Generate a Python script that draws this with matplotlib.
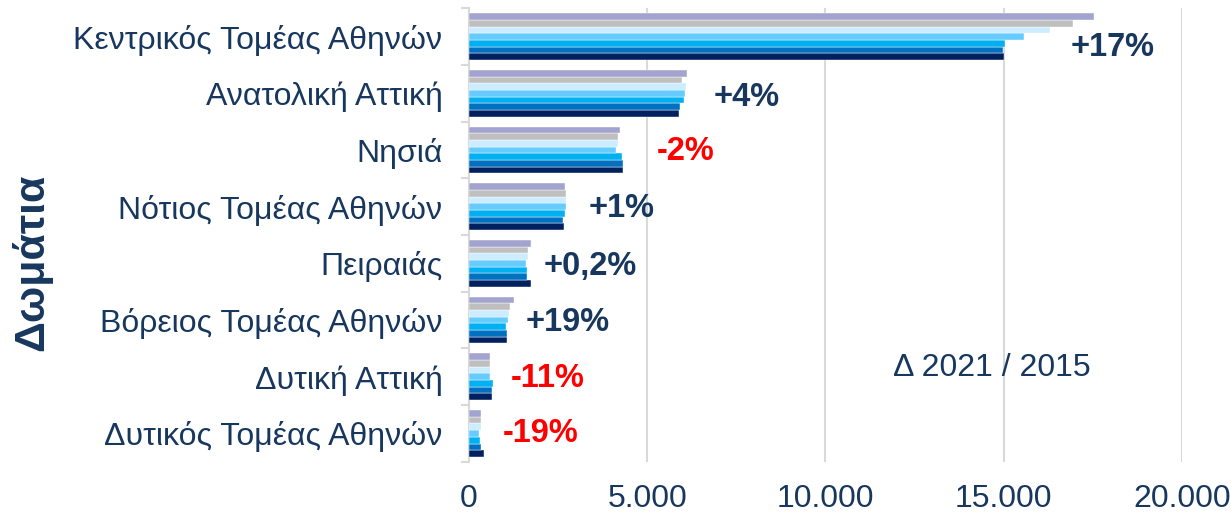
import numpy as np
import matplotlib.pyplot as plt
from matplotlib.ticker import FuncFormatter

plt.rcParams['font.family'] = ['Liberation Sans', 'DejaVu Sans']

# Περιοχές (από πάνω προς τα κάτω)
regions = ["Κεντρικός Τομέας Αθηνών", "Ανατολική Αττική", "Νησιά",
           "Νότιος Τομέας Αθηνών", "Πειραιάς", "Βόρειος Τομέας Αθηνών",
           "Δυτική Αττική", "Δυτικός Τομέας Αθηνών"]
years = [2015, 2016, 2017, 2018, 2019, 2020, 2021]

# Δωμάτια ανά έτος (εκτίμηση από την εικόνα)
rooms_2015 = [15000, 5880, 4330, 2670, 1730, 1055, 650, 413]
rooms_2016 = [14990, 5920, 4310, 2630, 1620, 1070, 650, 330]
rooms_2017 = [15030, 6040, 4300, 2690, 1620, 1050, 665, 300]
rooms_2018 = [15570, 6060, 4130, 2720, 1600, 1096, 600, 280]
rooms_2019 = [16310, 6076, 4190, 2710, 1657, 1115, 580, 330]
rooms_2020 = [16950, 5980, 4190, 2730, 1657, 1152, 580, 337]
rooms_2021 = [17545, 6124, 4240, 2700, 1735, 1255, 580, 337]
change_labels = ["+17%", "+4%", "-2%", "+1%", "+0,2%", "+19%", "-11%", "-19%"]

series = [rooms_2015, rooms_2016, rooms_2017, rooms_2018,
          rooms_2019, rooms_2020, rooms_2021]
colors = ["#002060", "#0070C0", "#00B0F0", "#66CCFF",
          "#CCECFF", "#BFBFBF", "#A3A3CF"]

text_col = "#17375E"

fig = plt.figure(figsize=(12.31, 5.12), dpi=100)
ax = fig.add_axes([0.381, 0.098, 0.579, 0.886])

n = len(regions)
pos = np.arange(n)[::-1].astype(float)
bar_h = 0.118
for i, vals in enumerate(series):
    off = (i - 3) * bar_h
    ax.barh(pos + off, vals, height=bar_h, color=colors[i],
            edgecolor="white", linewidth=0.3, zorder=3)

ax.set_xlim(0, 20000)
ax.set_ylim(-0.5, n - 0.5)
ax.set_xticks([0, 5000, 10000, 15000, 20000])
ax.xaxis.set_major_formatter(FuncFormatter(lambda v, p: f"{int(v):,}".replace(",", ".")))
ax.set_yticks(np.arange(n + 1) - 0.5, minor=True)
ax.set_yticks(pos)
ax.set_yticklabels(regions)

ax.grid(axis="x", color="#D9D9D9", linewidth=1.5, zorder=0)
ax.xaxis.get_gridlines()[0].set_visible(False)
for s in ["top", "right", "bottom"]:
    ax.spines[s].set_visible(False)
ax.spines["left"].set_color("#D9D9D9")
ax.spines["left"].set_linewidth(1.5)

ax.tick_params(axis="y", which="major", length=0, pad=19, labelsize=23, labelcolor=text_col)
ax.tick_params(axis="y", which="minor", length=6, width=1.5, color="#D9D9D9")
ax.tick_params(axis="x", length=0, pad=16, labelsize=23, labelcolor=text_col)

ax.set_ylabel("Δωμάτια", fontsize=31, fontweight="bold", color=text_col)
ax.yaxis.set_label_coords(-0.585, 0.44)

# Ποσοστά μεταβολής
label_x = [16880, 6850, 5280, 3370, 2100, 1600, 1180, 955]
label_dy = [-0.2, -0.07, -0.02, -0.03, -0.05, -0.05, -0.03, 0.0]
for k, lab in enumerate(change_labels):
    col = "#FF0000" if lab.startswith("-") else text_col
    ax.text(label_x[k], pos[k] + label_dy[k], lab, fontsize=23.5, fontweight="bold",
            color=col, ha="left", va="center", zorder=4)

ax.text(0.595, 0.207, "Δ 2021 / 2015", transform=ax.transAxes, fontsize=23,
        color=text_col, ha="left", va="center")

fig.savefig("out.png", dpi=100)
